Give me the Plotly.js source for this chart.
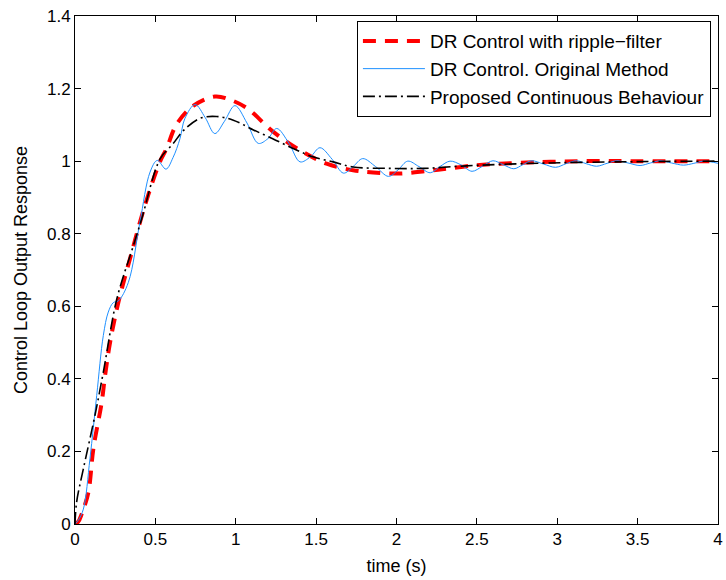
<!DOCTYPE html>
<html><head><meta charset="utf-8">
<script src="https://cdn.plot.ly/plotly-3.0.1.min.js"></script>
<style>html,body{margin:0;padding:0;background:#fff;}</style>
</head><body>
<div id="chart" style="width:726px;height:580px;"></div>
<script>
const redX = [0, 0.02, 0.042, 0.083, 0.114, 0.166, 0.187, 0.218, 0.27, 0.342, 0.435, 0.53, 0.57, 0.63, 0.735, 0.87, 0.96, 1.07, 1.23, 1.40, 1.565, 1.73, 1.855, 2.02, 2.19, 2.33, 2.5, 2.64, 2.81, 2.955, 3.16, 3.5, 4.0];
const redY = [0, 0.006, 0.028, 0.087, 0.207, 0.335, 0.409, 0.5, 0.611, 0.731, 0.878, 1.0, 1.035, 1.1, 1.152, 1.178, 1.17, 1.146, 1.082, 1.03, 0.993, 0.975, 0.969, 0.966, 0.973, 0.98, 0.989, 0.993, 0.996, 0.998, 1.0, 1.0, 1.0];

const blueX = [0, 0.02, 0.052, 0.093, 0.135, 0.176, 0.207, 0.238, 0.27, 0.332, 0.404, 0.467, 0.512, 0.566, 0.61, 0.653, 0.684, 0.747, 0.81, 0.87, 0.93, 0.995, 1.07, 1.14, 1.2, 1.255, 1.33, 1.40, 1.465, 1.524, 1.6, 1.67, 1.73, 1.79, 1.87, 1.95, 2.01, 2.07, 2.14, 2.21, 2.27, 2.333, 2.40, 2.47, 2.535, 2.60, 2.665, 2.73, 2.785, 2.84, 2.915, 2.99, 3.055, 3.12, 3.18, 3.245, 3.31, 3.37, 3.44, 3.515, 3.58, 3.64, 3.71, 3.785, 3.85, 3.91, 4.0];
const blueY = [0, 0.01, 0.041, 0.18, 0.354, 0.519, 0.584, 0.61, 0.615, 0.666, 0.832, 0.97, 1.002, 0.978, 1.01, 1.062, 1.118, 1.156, 1.12, 1.076, 1.11, 1.153, 1.105, 1.049, 1.062, 1.09, 1.05, 0.998, 1.012, 1.037, 1.005, 0.967, 0.985, 1.007, 0.985, 0.958, 0.976, 1.0, 0.985, 0.968, 0.985, 1.0, 0.99, 0.972, 0.986, 1.001, 0.99, 0.979, 0.99, 1.001, 0.992, 0.983, 0.993, 1.001, 0.993, 0.986, 0.994, 1.001, 0.995, 0.988, 0.995, 1.001, 0.995, 0.989, 0.994, 1.0, 0.994];

const blackX = [0, 0.01, 0.052, 0.124, 0.176, 0.26, 0.363, 0.415, 0.529, 0.61, 0.674, 0.778, 0.88, 0.985, 1.11, 1.23, 1.357, 1.48, 1.606, 1.73, 1.96, 2.17, 2.395, 2.64, 2.955, 3.37, 4.0];
const blackY = [0, 0.06, 0.152, 0.299, 0.418, 0.62, 0.767, 0.841, 1.006, 1.048, 1.084, 1.118, 1.123, 1.113, 1.086, 1.062, 1.035, 1.012, 0.998, 0.984, 0.98, 0.98, 0.986, 0.991, 0.995, 0.998, 1.0];

const seriesNames = ['DR Control with ripple\u2212filter', 'DR Control. Original Method', 'Proposed Continuous Behaviour'];
const xTicks = [0, 0.5, 1, 1.5, 2, 2.5, 3, 3.5, 4];
const yTicks = [0, 0.2, 0.4, 0.6, 0.8, 1, 1.2, 1.4];

const fam = 'Liberation Sans, Arial, Helvetica, sans-serif';
const tickFont = {family: fam, size: 17, color: '#000'};
const titleFont = {family: fam, size: 18, color: '#000'};
const legendFont = {family: fam, size: 19, color: '#000'};

const traces = [
  {x: redX, y: redY, name: seriesNames[0], mode: 'lines',
   line: {color: '#ff0000', width: 4, dash: '13px,9px', shape: 'spline', smoothing: 1}},
  {x: blueX, y: blueY, name: seriesNames[1], mode: 'lines',
   line: {color: 'rgb(30,144,255)', width: 1, shape: 'spline', smoothing: 1}},
  {x: blackX, y: blackY, name: seriesNames[2], mode: 'lines',
   line: {color: '#000000', width: 1.6, dash: '12px,4px,2px,4px', shape: 'spline', smoothing: 1}}
];

const axisCommon = {
  showline: true, linecolor: '#000', linewidth: 1, mirror: 'ticks',
  ticks: 'inside', ticklen: 6, tickcolor: '#000', tickwidth: 1,
  showgrid: false, zeroline: false, tickfont: tickFont
};

const layout = {
  width: 726, height: 580,
  margin: {l: 75, r: 8, t: 16, b: 56},
  paper_bgcolor: '#fff', plot_bgcolor: '#fff',
  font: tickFont,
  showlegend: true,
  legend: {x: 0.989, xanchor: 'right', y: 0.99, yanchor: 'top',
           bgcolor: '#fff', bordercolor: '#000', borderwidth: 1,
           font: legendFont, tracegroupgap: 0, itemwidth: 62},
  xaxis: Object.assign({}, axisCommon, {range: [0, 4], tickvals: xTicks,
     title: {text: 'time (s)', font: titleFont, standoff: 10}}),
  yaxis: Object.assign({}, axisCommon, {range: [0, 1.4], tickvals: yTicks,
     title: {text: 'Control Loop Output Response', font: titleFont, standoff: 14}})
};

Plotly.newPlot('chart', traces, layout, {displayModeBar: false, staticPlot: true});
</script>
</body></html>
